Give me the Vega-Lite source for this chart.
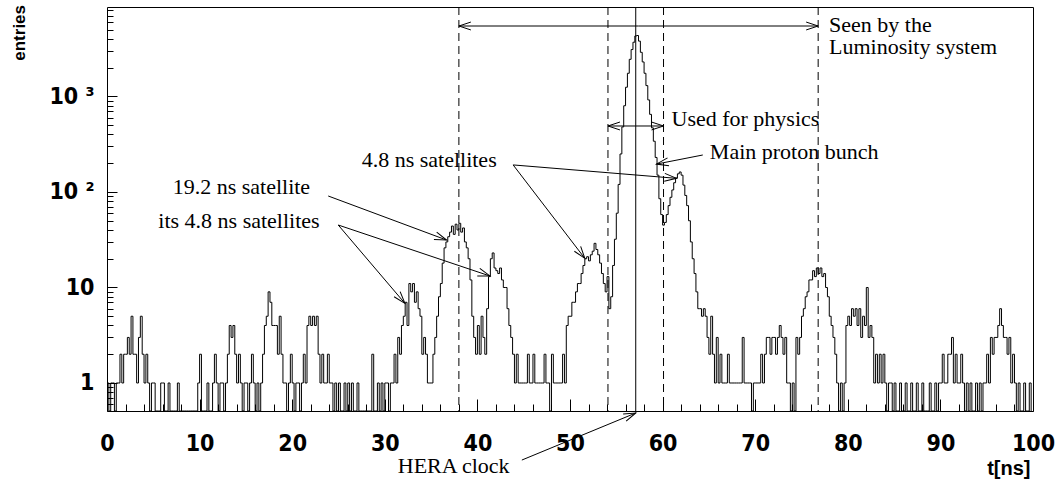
{
"$schema": "https://vega.github.io/schema/vega-lite/v6.json",
"width": 926, "height": 404,
"autosize": {"type": "none"},
"padding": {"left": 107, "top": 7, "right": 23, "bottom": 70},
"background": "white",
"config": {"view": {"stroke": "black", "strokeWidth": 1}, "font": "Liberation Sans", "scale": {"invalid": {"y": {"value": 404}}}},
"datasets": {
"hist": [
{"t":0,"n":1},{"t":0.2,"n":0},{"t":0.4,"n":1},{"t":0.6,"n":1},{"t":0.8,"n":0},
{"t":1,"n":1},{"t":1.2,"n":1},{"t":1.4,"n":2},{"t":1.6,"n":1},{"t":1.8,"n":2},
{"t":2,"n":2},{"t":2.2,"n":3},{"t":2.4,"n":2},{"t":2.6,"n":5},{"t":2.8,"n":2},
{"t":3,"n":2},{"t":3.2,"n":1},{"t":3.4,"n":3},{"t":3.6,"n":5},{"t":3.8,"n":2},
{"t":4,"n":1},{"t":4.2,"n":2},{"t":4.4,"n":1},{"t":4.6,"n":0},{"t":4.8,"n":1},
{"t":5,"n":1},{"t":5.2,"n":0},{"t":5.4,"n":0},{"t":5.6,"n":0},{"t":5.8,"n":1},
{"t":6,"n":1},{"t":6.2,"n":0},{"t":6.4,"n":0},{"t":6.6,"n":1},{"t":6.8,"n":0},
{"t":7,"n":0},{"t":7.2,"n":0},{"t":7.4,"n":0},{"t":7.6,"n":1},{"t":7.8,"n":0},
{"t":8,"n":0},{"t":8.2,"n":0},{"t":8.4,"n":0},{"t":8.6,"n":0},{"t":8.8,"n":0},
{"t":9,"n":0},{"t":9.2,"n":0},{"t":9.4,"n":0},{"t":9.6,"n":0},{"t":9.8,"n":1},
{"t":10,"n":2},{"t":10.2,"n":0},{"t":10.4,"n":0},{"t":10.6,"n":0},{"t":10.8,"n":1},
{"t":11,"n":0},{"t":11.2,"n":0},{"t":11.4,"n":1},{"t":11.6,"n":2},{"t":11.8,"n":1},
{"t":12,"n":0},{"t":12.2,"n":1},{"t":12.4,"n":1},{"t":12.6,"n":0},{"t":12.8,"n":1},
{"t":13,"n":2},{"t":13.2,"n":4},{"t":13.4,"n":3},{"t":13.6,"n":4},{"t":13.8,"n":2},
{"t":14,"n":1},{"t":14.2,"n":2},{"t":14.4,"n":1},{"t":14.6,"n":0},{"t":14.8,"n":1},
{"t":15,"n":1},{"t":15.2,"n":0},{"t":15.4,"n":1},{"t":15.6,"n":2},{"t":15.8,"n":1},
{"t":16,"n":0},{"t":16.2,"n":1},{"t":16.4,"n":0},{"t":16.6,"n":1},{"t":16.8,"n":2},
{"t":17,"n":4},{"t":17.2,"n":5},{"t":17.4,"n":9},{"t":17.6,"n":7},{"t":17.8,"n":4},
{"t":18,"n":4},{"t":18.2,"n":4},{"t":18.4,"n":2},{"t":18.6,"n":5},{"t":18.8,"n":2},
{"t":19,"n":1},{"t":19.2,"n":1},{"t":19.4,"n":0},{"t":19.6,"n":1},{"t":19.8,"n":2},
{"t":20,"n":1},{"t":20.2,"n":0},{"t":20.4,"n":1},{"t":20.6,"n":1},{"t":20.8,"n":0},
{"t":21,"n":1},{"t":21.2,"n":2},{"t":21.4,"n":1},{"t":21.6,"n":4},{"t":21.8,"n":5},
{"t":22,"n":4},{"t":22.2,"n":5},{"t":22.4,"n":4},{"t":22.6,"n":5},{"t":22.8,"n":2},
{"t":23,"n":1},{"t":23.2,"n":2},{"t":23.4,"n":1},{"t":23.6,"n":1},{"t":23.8,"n":2},
{"t":24,"n":1},{"t":24.2,"n":1},{"t":24.4,"n":0},{"t":24.6,"n":1},{"t":24.8,"n":0},
{"t":25,"n":1},{"t":25.2,"n":0},{"t":25.4,"n":0},{"t":25.6,"n":1},{"t":25.8,"n":0},
{"t":26,"n":1},{"t":26.2,"n":0},{"t":26.4,"n":1},{"t":26.6,"n":0},{"t":26.8,"n":0},
{"t":27,"n":1},{"t":27.2,"n":0},{"t":27.4,"n":0},{"t":27.6,"n":0},{"t":27.8,"n":0},
{"t":28,"n":0},{"t":28.2,"n":0},{"t":28.4,"n":0},{"t":28.6,"n":2},{"t":28.8,"n":0},
{"t":29,"n":0},{"t":29.2,"n":1},{"t":29.4,"n":0},{"t":29.6,"n":1},{"t":29.8,"n":0},
{"t":30,"n":1},{"t":30.2,"n":1},{"t":30.4,"n":0},{"t":30.6,"n":1},{"t":30.8,"n":1},
{"t":31,"n":2},{"t":31.2,"n":1},{"t":31.4,"n":3},{"t":31.6,"n":2},{"t":31.8,"n":4},
{"t":32,"n":5},{"t":32.2,"n":7},{"t":32.4,"n":4},{"t":32.6,"n":11},{"t":32.8,"n":9},
{"t":33,"n":11},{"t":33.2,"n":7},{"t":33.4,"n":9},{"t":33.6,"n":6},{"t":33.8,"n":5},
{"t":34,"n":2},{"t":34.2,"n":3},{"t":34.4,"n":2},{"t":34.6,"n":1},{"t":34.8,"n":1},
{"t":35,"n":1},{"t":35.2,"n":2},{"t":35.4,"n":3},{"t":35.6,"n":5},{"t":35.8,"n":8},
{"t":36,"n":11},{"t":36.2,"n":18},{"t":36.4,"n":26},{"t":36.6,"n":30},{"t":36.8,"n":34},
{"t":37,"n":38},{"t":37.2,"n":44},{"t":37.4,"n":36},{"t":37.6,"n":46},{"t":37.8,"n":40},
{"t":38,"n":47},{"t":38.2,"n":38},{"t":38.4,"n":42},{"t":38.6,"n":30},{"t":38.8,"n":26},
{"t":39,"n":20},{"t":39.2,"n":12},{"t":39.4,"n":5},{"t":39.6,"n":3},{"t":39.8,"n":2},
{"t":40,"n":4},{"t":40.2,"n":2},{"t":40.4,"n":5},{"t":40.6,"n":3},{"t":40.8,"n":2},
{"t":41,"n":6},{"t":41.2,"n":13},{"t":41.4,"n":20},{"t":41.6,"n":23},{"t":41.8,"n":16},
{"t":42,"n":15},{"t":42.2,"n":14},{"t":42.4,"n":16},{"t":42.6,"n":12},{"t":42.8,"n":10},
{"t":43,"n":10},{"t":43.2,"n":6},{"t":43.4,"n":4},{"t":43.6,"n":3},{"t":43.8,"n":2},
{"t":44,"n":1},{"t":44.2,"n":2},{"t":44.4,"n":1},{"t":44.6,"n":1},{"t":44.8,"n":1},
{"t":45,"n":1},{"t":45.2,"n":1},{"t":45.4,"n":2},{"t":45.6,"n":1},{"t":45.8,"n":1},
{"t":46,"n":2},{"t":46.2,"n":1},{"t":46.4,"n":1},{"t":46.6,"n":1},{"t":46.8,"n":1},
{"t":47,"n":1},{"t":47.2,"n":2},{"t":47.4,"n":1},{"t":47.6,"n":1},{"t":47.8,"n":0},
{"t":48,"n":2},{"t":48.2,"n":1},{"t":48.4,"n":1},{"t":48.6,"n":1},{"t":48.8,"n":1},
{"t":49,"n":1},{"t":49.2,"n":2},{"t":49.4,"n":1},{"t":49.6,"n":4},{"t":49.8,"n":5},
{"t":50,"n":5},{"t":50.2,"n":7},{"t":50.4,"n":7},{"t":50.6,"n":9},{"t":50.8,"n":11},
{"t":51,"n":11},{"t":51.2,"n":14},{"t":51.4,"n":17},{"t":51.6,"n":20},{"t":51.8,"n":21},
{"t":52,"n":19},{"t":52.2,"n":22},{"t":52.4,"n":24},{"t":52.6,"n":29},{"t":52.8,"n":25},
{"t":53,"n":22},{"t":53.2,"n":18},{"t":53.4,"n":14},{"t":53.6,"n":11},{"t":53.8,"n":9},
{"t":54,"n":13},{"t":54.2,"n":6},{"t":54.4,"n":8},{"t":54.6,"n":17},{"t":54.8,"n":32},
{"t":55,"n":60},{"t":55.2,"n":120},{"t":55.4,"n":250},{"t":55.6,"n":480},{"t":55.8,"n":800},
{"t":56,"n":1250},{"t":56.2,"n":1750},{"t":56.4,"n":2450},{"t":56.6,"n":3100},{"t":56.8,"n":3700},
{"t":57,"n":4300},{"t":57.2,"n":4350},{"t":57.4,"n":3800},{"t":57.6,"n":2900},{"t":57.8,"n":2300},
{"t":58,"n":1750},{"t":58.2,"n":1300},{"t":58.4,"n":920},{"t":58.6,"n":650},{"t":58.8,"n":470},
{"t":59,"n":340},{"t":59.2,"n":230},{"t":59.4,"n":150},{"t":59.6,"n":85},{"t":59.8,"n":58},
{"t":60,"n":45},{"t":60.2,"n":48},{"t":60.4,"n":58},{"t":60.6,"n":72},{"t":60.8,"n":88},
{"t":61,"n":105},{"t":61.2,"n":125},{"t":61.4,"n":140},{"t":61.6,"n":155},{"t":61.8,"n":162},
{"t":62,"n":150},{"t":62.2,"n":118},{"t":62.4,"n":92},{"t":62.6,"n":72},{"t":62.8,"n":50},
{"t":63,"n":30},{"t":63.2,"n":20},{"t":63.4,"n":14},{"t":63.6,"n":9},{"t":63.8,"n":6},
{"t":64,"n":6},{"t":64.2,"n":5},{"t":64.4,"n":6},{"t":64.6,"n":5},{"t":64.8,"n":3},
{"t":65,"n":2},{"t":65.2,"n":5},{"t":65.4,"n":2},{"t":65.6,"n":1},{"t":65.8,"n":3},
{"t":66,"n":1},{"t":66.2,"n":2},{"t":66.4,"n":1},{"t":66.6,"n":1},{"t":66.8,"n":1},
{"t":67,"n":2},{"t":67.2,"n":1},{"t":67.4,"n":1},{"t":67.6,"n":1},{"t":67.8,"n":1},
{"t":68,"n":1},{"t":68.2,"n":1},{"t":68.4,"n":1},{"t":68.6,"n":3},{"t":68.8,"n":1},
{"t":69,"n":1},{"t":69.2,"n":1},{"t":69.4,"n":1},{"t":69.6,"n":0},{"t":69.8,"n":1},
{"t":70,"n":1},{"t":70.2,"n":1},{"t":70.4,"n":1},{"t":70.6,"n":2},{"t":70.8,"n":1},
{"t":71,"n":2},{"t":71.2,"n":3},{"t":71.4,"n":3},{"t":71.6,"n":2},{"t":71.8,"n":3},
{"t":72,"n":3},{"t":72.2,"n":2},{"t":72.4,"n":3},{"t":72.6,"n":4},{"t":72.8,"n":3},
{"t":73,"n":2},{"t":73.2,"n":3},{"t":73.4,"n":1},{"t":73.6,"n":1},{"t":73.8,"n":0},
{"t":74,"n":1},{"t":74.2,"n":0},{"t":74.4,"n":3},{"t":74.6,"n":2},{"t":74.8,"n":3},
{"t":75,"n":5},{"t":75.2,"n":6},{"t":75.4,"n":8},{"t":75.6,"n":9},{"t":75.8,"n":12},
{"t":76,"n":12},{"t":76.2,"n":15},{"t":76.4,"n":13},{"t":76.6,"n":16},{"t":76.8,"n":14},
{"t":77,"n":16},{"t":77.2,"n":13},{"t":77.4,"n":14},{"t":77.6,"n":10},{"t":77.8,"n":8},
{"t":78,"n":5},{"t":78.2,"n":4},{"t":78.4,"n":3},{"t":78.6,"n":2},{"t":78.8,"n":1},
{"t":79,"n":0},{"t":79.2,"n":1},{"t":79.4,"n":0},{"t":79.6,"n":1},{"t":79.8,"n":4},
{"t":80,"n":5},{"t":80.2,"n":4},{"t":80.4,"n":6},{"t":80.6,"n":5},{"t":80.8,"n":6},
{"t":81,"n":4},{"t":81.2,"n":6},{"t":81.4,"n":3},{"t":81.6,"n":5},{"t":81.8,"n":4},
{"t":82,"n":10},{"t":82.2,"n":3},{"t":82.4,"n":4},{"t":82.6,"n":3},{"t":82.8,"n":1},
{"t":83,"n":2},{"t":83.2,"n":1},{"t":83.4,"n":2},{"t":83.6,"n":1},{"t":83.8,"n":2},
{"t":84,"n":1},{"t":84.2,"n":0},{"t":84.4,"n":1},{"t":84.6,"n":1},{"t":84.8,"n":0},
{"t":85,"n":1},{"t":85.2,"n":0},{"t":85.4,"n":0},{"t":85.6,"n":1},{"t":85.8,"n":0},
{"t":86,"n":0},{"t":86.2,"n":1},{"t":86.4,"n":0},{"t":86.6,"n":0},{"t":86.8,"n":1},
{"t":87,"n":0},{"t":87.2,"n":0},{"t":87.4,"n":1},{"t":87.6,"n":0},{"t":87.8,"n":0},
{"t":88,"n":1},{"t":88.2,"n":0},{"t":88.4,"n":0},{"t":88.6,"n":0},{"t":88.8,"n":1},
{"t":89,"n":0},{"t":89.2,"n":0},{"t":89.4,"n":1},{"t":89.6,"n":0},{"t":89.8,"n":1},
{"t":90,"n":1},{"t":90.2,"n":2},{"t":90.4,"n":1},{"t":90.6,"n":1},{"t":90.8,"n":2},
{"t":91,"n":2},{"t":91.2,"n":3},{"t":91.4,"n":1},{"t":91.6,"n":2},{"t":91.8,"n":1},
{"t":92,"n":1},{"t":92.2,"n":2},{"t":92.4,"n":1},{"t":92.6,"n":0},{"t":92.8,"n":1},
{"t":93,"n":0},{"t":93.2,"n":1},{"t":93.4,"n":0},{"t":93.6,"n":0},{"t":93.8,"n":1},
{"t":94,"n":0},{"t":94.2,"n":1},{"t":94.4,"n":0},{"t":94.6,"n":1},{"t":94.8,"n":1},
{"t":95,"n":2},{"t":95.2,"n":1},{"t":95.4,"n":3},{"t":95.6,"n":2},{"t":95.8,"n":3},
{"t":96,"n":3},{"t":96.2,"n":4},{"t":96.4,"n":6},{"t":96.6,"n":4},{"t":96.8,"n":3},
{"t":97,"n":3},{"t":97.2,"n":2},{"t":97.4,"n":3},{"t":97.6,"n":1},{"t":97.8,"n":2},
{"t":98,"n":1},{"t":98.2,"n":0},{"t":98.4,"n":1},{"t":98.6,"n":0},{"t":98.8,"n":0},
{"t":99,"n":1},{"t":99.2,"n":0},{"t":99.4,"n":0},{"t":99.6,"n":1},{"t":99.8,"n":0}
],
"arrows": [
{"t":57.4,"n":5470,"t2":38.0,"n2":5470,"a":180},
{"t":57.4,"n":5470,"t2":76.8,"n2":5470,"a":0},
{"t":57.1,"n":491,"t2":54.1,"n2":491,"a":180},
{"t":57.1,"n":491,"t2":60.1,"n2":491,"a":0},
{"t":64.34,"n":244,"t2":59.34,"n2":196,"a":169},
{"t":43.86,"n":192,"t2":51.6,"n2":20.2,"a":52.5},
{"t":43.86,"n":192,"t2":61.5,"n2":139,"a":4.7},
{"t":23.89,"n":90.8,"t2":36.67,"n2":31.4,"a":20.4},
{"t":24.97,"n":45.1,"t2":32.17,"n2":6.83,"a":49.6},
{"t":24.97,"n":45.1,"t2":41.35,"n2":13.2,"a":18.6},
{"t":44.8,"n":0.156,"t2":57.1,"n2":0.485,"a":-22.4}
],
"labels": [
{"label":"Seen by the\nLuminosity system","t":77.97,"n":4773},
{"label":"Used for physics","t":60.96,"n":491},
{"label":"Main proton bunch","t":65.1,"n":220},
{"label":"4.8 ns satellites","t":27.5,"n":184},
{"label":"19.2 ns satellite","t":7.09,"n":94.6},
{"label":"its 4.8 ns satellites","t":5.54,"n":42.3},
{"label":"HERA clock","t":31.4,"n":0.114}
]
},
"resolve": {"scale": {"x": "independent", "y": "independent"}, "axis": {"x": "independent", "y": "independent"}},
"layer": [
{
"data": {"name": "hist"},
"mark": {"type": "line", "interpolate": "step-after", "color": "black", "strokeWidth": 1, "invalid": "show"},
"encoding": {
"x": {"field": "t", "type": "quantitative",
"scale": {"domain": [0, 100], "nice": false, "zero": false},
"axis": {"orient": "bottom", "title": "t[ns]", "grid": false, "domain": false, "ticks": false,
"values": [0,10,20,30,40,50,60,70,80,90,100],
"labelPadding": 21, "labelFlush": false, "labelOverlap": false,
"labelFont": "Liberation Sans Narrow, DejaVu Sans Condensed, Liberation Sans", "labelFontWeight": "bold", "labelFontSize": 23, "labelColor": "black",
"titleFont": "Liberation Sans", "titleFontWeight": "bold", "titleFontSize": 20, "titleColor": "black",
"titleX": 923, "titleY": 63, "titleAlign": "right", "titleBaseline": "alphabetic"}
},
"y": {"field": "n", "type": "quantitative",
"scale": {"type": "log", "domain": [0.509, 8650], "nice": false, "clamp": true},
"axis": {"orient": "left", "title": null, "grid": false, "domain": false, "ticks": false,
"values": [1,10,100,1000],
"labelExpr": "datum.value === 1 ? '1\u00a0\u00a0' : datum.value === 10 ? '10\u00a0\u00a0' : datum.value === 100 ? '10 ²' : '10 ³'",
"labelPadding": 13, "labelFlush": false, "labelOverlap": false, "labelBaseline": "middle", "labelAlign": "right",
"labelFont": "Liberation Sans Narrow, DejaVu Sans Condensed, Liberation Sans", "labelFontWeight": "bold", "labelFontSize": 23, "labelColor": "black"}
}
}
},
{
"data": {"name": "hist"},
"mark": {"type": "point", "opacity": 0},
"encoding": {
"x": {"field": "t", "type": "quantitative",
"scale": {"domain": [0, 100], "nice": false, "zero": false},
"axis": {"orient": "bottom", "title": null, "grid": false, "domain": false, "labels": false,
"values": [0,10,20,30,40,50,60,70,80,90,100],
"tickSize": -12, "tickColor": "black"}
},
"y": {"field": "n", "type": "quantitative",
"scale": {"type": "log", "domain": [0.509, 8650], "nice": false},
"axis": {"orient": "left", "title": null, "grid": false, "domain": false, "labels": false,
"values": [1,10,100,1000],
"tickSize": -10, "tickColor": "black"}
}
}
},
{
"data": {"name": "hist"},
"mark": {"type": "point", "opacity": 0},
"encoding": {
"x": {"field": "t", "type": "quantitative",
"scale": {"domain": [0, 100], "nice": false, "zero": false},
"axis": {"orient": "bottom", "title": null, "grid": false, "domain": false, "labels": false,
"values": [2,4,6,8,12,14,16,18,22,24,26,28,32,34,36,38,42,44,46,48,52,54,56,58,62,64,66,68,72,74,76,78,82,84,86,88,92,94,96,98],
"tickSize": -7, "tickColor": "black"}
},
"y": {"field": "n", "type": "quantitative",
"scale": {"type": "log", "domain": [0.509, 8650], "nice": false},
"axis": {"orient": "left", "title": null, "grid": false, "domain": false, "labels": false,
"values": [0.6,0.7,0.8,0.9,2,3,4,5,6,7,8,9,20,30,40,50,60,70,80,90,200,300,400,500,600,700,800,900,2000,3000,4000,5000,6000,7000,8000],
"tickSize": -6, "tickColor": "black"}
}
}
},
{
"layer": [
{
"data": {"values": [{"t":38.0},{"t":54.1},{"t":60.1},{"t":76.8}]},
"mark": {"type": "rule", "color": "black", "strokeWidth": 1, "strokeDash": [8, 5]},
"encoding": {"x": {"field": "t", "type": "quantitative", "scale": {"domain": [0, 100], "nice": false, "zero": false}, "axis": null}}
},
{
"data": {"values": [{"t":57.1}]},
"mark": {"type": "rule", "color": "black", "strokeWidth": 1},
"encoding": {"x": {"field": "t", "type": "quantitative", "axis": null}}
},
{
"data": {"name": "arrows"},
"mark": {"type": "rule", "color": "black", "strokeWidth": 1},
"encoding": {
"x": {"field": "t", "type": "quantitative", "axis": null},
"y": {"field": "n", "type": "quantitative", "scale": {"type": "log", "domain": [0.509, 8650], "nice": false}, "axis": null},
"x2": {"field": "t2"},
"y2": {"field": "n2"}
}
},
{
"data": {"name": "arrows"},
"mark": {"type": "point", "shape": "M -1 -0.33 L 0 0 L -1 0.33", "filled": false, "stroke": "black", "strokeWidth": 1, "size": 576, "opacity": 1},
"encoding": {
"x": {"field": "t2", "type": "quantitative", "axis": null},
"y": {"field": "n2", "type": "quantitative", "axis": null},
"angle": {"field": "a", "type": "quantitative", "scale": null}
}
},
{
"data": {"name": "labels"},
"mark": {"type": "text", "font": "Liberation Serif", "fontSize": 22, "align": "left", "baseline": "alphabetic", "lineBreak": "\n", "lineHeight": 22, "color": "black"},
"encoding": {
"x": {"field": "t", "type": "quantitative", "axis": null},
"y": {"field": "n", "type": "quantitative", "axis": null},
"text": {"field": "label"}
}
},
{
"data": {"values": [{"label": "entries", "t": -8.85, "n": 9080}]},
"mark": {"type": "text", "font": "Liberation Sans", "fontWeight": "bold", "fontSize": 17, "angle": 270, "align": "right", "baseline": "alphabetic", "color": "black"},
"encoding": {
"x": {"field": "t", "type": "quantitative", "axis": null},
"y": {"field": "n", "type": "quantitative", "axis": null},
"text": {"field": "label"}
}
}
]
}
]
}
